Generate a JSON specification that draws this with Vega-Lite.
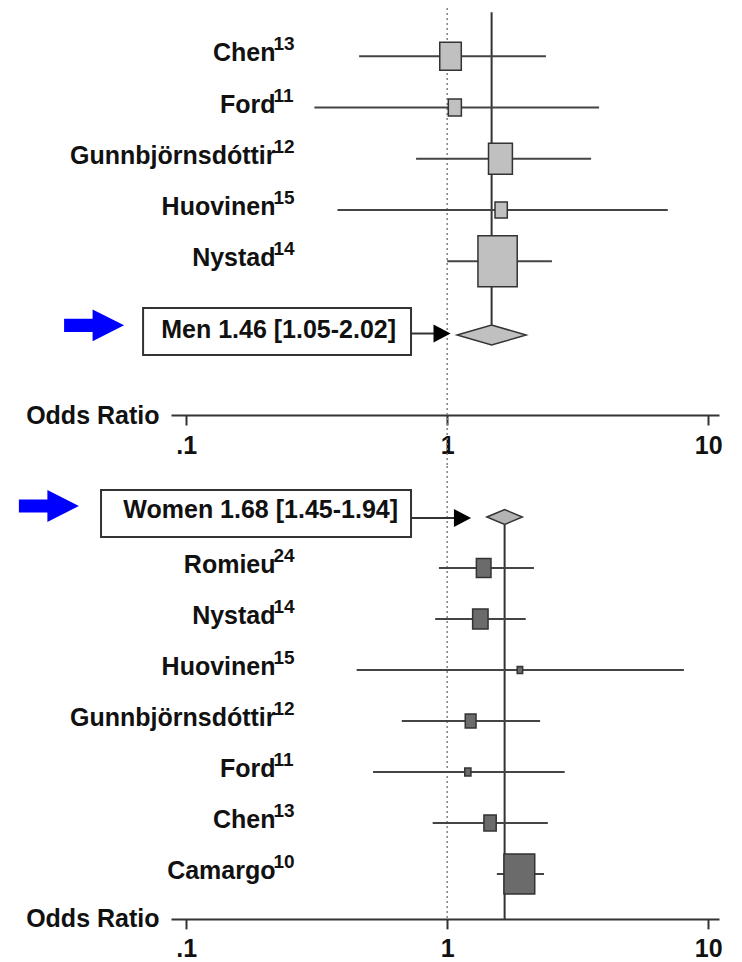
{
  "$schema": "https://vega.github.io/schema/vega-lite/v6.json",
  "padding": {"left": 18, "top": 5, "right": 5, "bottom": 2},
  "background": "white",
  "bounds": "flush",
  "spacing": 51,
  "resolve": {"scale": {"size": "independent", "x": "independent", "y": "independent"}},
  "datasets": {
    "men": [
      {"study": "Chen", "ref": "13", "or": 1.03, "lo": 0.46, "hi": 2.39, "w": 16.0, "row": 1},
      {"study": "Ford", "ref": "11", "or": 1.07, "lo": 0.31, "hi": 3.82, "w": 5.9, "row": 2},
      {"study": "Gunnbjörnsdóttir", "ref": "12", "or": 1.60, "lo": 0.76, "hi": 3.56, "w": 19.7, "row": 3},
      {"study": "Huovinen", "ref": "15", "or": 1.61, "lo": 0.38, "hi": 7.0, "w": 5.2, "row": 4},
      {"study": "Nystad", "ref": "14", "or": 1.56, "lo": 1.0, "hi": 2.52, "w": 53.2, "row": 5}
    ],
    "women": [
      {"study": "Romieu", "ref": "24", "or": 1.38, "lo": 0.93, "hi": 2.15, "w": 12.3, "row": 2},
      {"study": "Nystad", "ref": "14", "or": 1.34, "lo": 0.90, "hi": 2.0, "w": 13.7, "row": 3},
      {"study": "Huovinen", "ref": "15", "or": 1.90, "lo": 0.45, "hi": 8.07, "w": 1.7, "row": 4},
      {"study": "Gunnbjörnsdóttir", "ref": "12", "or": 1.23, "lo": 0.67, "hi": 2.27, "w": 6.7, "row": 5},
      {"study": "Ford", "ref": "11", "or": 1.20, "lo": 0.52, "hi": 2.82, "w": 2.2, "row": 6},
      {"study": "Chen", "ref": "13", "or": 1.46, "lo": 0.88, "hi": 2.43, "w": 8.7, "row": 7},
      {"study": "Camargo", "ref": "10", "or": 1.89, "lo": 1.55, "hi": 2.35, "w": 54.7, "row": 8}
    ],
    "pooled": [
      {"group": "Men", "label": "Men 1.46 [1.05-2.02]", "or": 1.48, "lo": 1.05, "hi": 2.02, "row": 6.44},
      {"group": "Women", "label": "Women 1.68 [1.45-1.94]", "or": 1.66, "lo": 1.45, "hi": 1.94, "row": 1}
    ]
  },
  "config": {
    "view": {"stroke": null},
    "axis": {
      "labelFont": "Liberation Sans", "labelFontSize": 25, "labelFontWeight": "bold", "labelColor": "#111",
      "domainColor": "#333", "domainWidth": 2, "tickColor": "#333", "tickWidth": 2, "tickSize": 10,
      "labelPadding": 8, "labelFlush": false, "labelOverlap": false, "grid": false,
      "titleFont": "Liberation Sans", "titleFontSize": 25, "titleFontWeight": "bold", "titleColor": "#111",
      "titleAngle": 0, "titleX": -12, "titleY": 8, "titleAlign": "right", "titleBaseline": "alphabetic"
    },
    "text": {"font": "Liberation Sans", "fontWeight": "bold", "color": "#111"}
  },
  "vconcat": [
    {
      "width": 548,
      "height": 410,
      "layer": [
        {
          "data": {"values": [{}]},
          "mark": {"type": "rule", "strokeDash": [2, 3], "color": "#808080", "strokeWidth": 1.5},
          "encoding": {
            "x": {"datum": 1, "type": "quantitative",
                  "scale": {"type": "log", "domain": [0.0875, 11], "nice": false},
                  "axis": {"values": [0.1, 1, 10], "title": "Odds Ratio", "orient": "bottom",
                           "labelExpr": "datum.value < 0.5 ? '.1' : datum.value < 5 ? '1' : '10'"}},
            "y": {"datum": 0.06, "type": "quantitative", "scale": {"domain": [0, 8], "reverse": true, "nice": false, "zero": false}, "axis": null},
            "y2": {"datum": 9}
          }
        },
        {
          "data": {"name": "pooled"},
          "transform": [{"filter": "datum.group == 'Men'"}],
          "mark": {"type": "rule", "color": "#333", "strokeWidth": 2},
          "encoding": {
            "x": {"field": "or", "type": "quantitative"},
            "y": {"datum": 0.14},
            "y2": {"datum": 6.24}
          }
        },
        {
          "data": {"name": "men"},
          "mark": {"type": "rule", "color": "#444", "strokeWidth": 2},
          "encoding": {
            "x": {"field": "lo", "type": "quantitative"},
            "x2": {"field": "hi"},
            "y": {"field": "row", "type": "quantitative"}
          }
        },
        {
          "data": {"name": "men"},
          "mark": {"type": "point", "shape": "M-0.77,-1L0.77,-1L0.77,1L-0.77,1Z", "filled": true, "fill": "#c0c0c0", "stroke": "#333", "strokeWidth": 1.5, "opacity": 1},
          "encoding": {
            "x": {"field": "or", "type": "quantitative"},
            "y": {"field": "row", "type": "quantitative"},
            "size": {"field": "w", "type": "quantitative", "scale": {"domain": [0, 53.2], "range": [0, 2601], "zero": true}, "legend": null}
          }
        },
        {
          "data": {"name": "pooled"},
          "transform": [{"filter": "datum.group == 'Men'"}],
          "mark": {"type": "point", "shape": "M-1,0L0,-0.29L1,0L0,0.29Z", "size": 4761, "filled": true, "fill": "#c0c0c0", "stroke": "#333", "strokeWidth": 1.5, "opacity": 1},
          "encoding": {
            "x": {"field": "or", "type": "quantitative"},
            "y": {"field": "row", "type": "quantitative"}
          }
        },
        {
          "data": {"name": "men"},
          "mark": {"type": "text", "align": "right", "baseline": "alphabetic", "dx": 0, "dy": 5, "fontSize": 25},
          "encoding": {
            "x": {"datum": 0.22},
            "y": {"field": "row", "type": "quantitative"},
            "text": {"field": "study"}
          }
        },
        {
          "data": {"name": "men"},
          "mark": {"type": "text", "align": "left", "baseline": "alphabetic", "dx": -2, "dy": -6, "fontSize": 19},
          "encoding": {
            "x": {"datum": 0.22},
            "y": {"field": "row", "type": "quantitative"},
            "text": {"field": "ref"}
          }
        },
        {
          "data": {"name": "pooled"},
          "transform": [{"filter": "datum.group == 'Men'"}],
          "mark": {"type": "rect", "fill": "white", "stroke": "#333", "strokeWidth": 2},
          "encoding": {
            "x": {"datum": 0.0684}, "x2": {"datum": 0.727},
            "y": {"datum": 5.91}, "y2": {"datum": 6.83}
          }
        },
        {
          "data": {"name": "pooled"},
          "transform": [{"filter": "datum.group == 'Men'"}],
          "mark": {"type": "text", "align": "right", "baseline": "alphabetic", "dx": -15, "fontSize": 25},
          "encoding": {
            "x": {"datum": 0.727},
            "y": {"datum": 6.5},
            "text": {"field": "label"}
          }
        },
        {
          "data": {"name": "pooled"},
          "transform": [{"filter": "datum.group == 'Men'"}],
          "mark": {"type": "rule", "color": "#333", "strokeWidth": 2},
          "encoding": {
            "x": {"datum": 0.727}, "x2": {"datum": 0.89},
            "y": {"datum": 6.41}
          }
        },
        {
          "data": {"name": "pooled"},
          "transform": [{"filter": "datum.group == 'Men'"}],
          "mark": {"type": "point", "shape": "M-0.95,-1L0.95,0L-0.95,1Z", "size": 324, "filled": true, "fill": "black", "opacity": 1},
          "encoding": {
            "x": {"datum": 0.956},
            "y": {"datum": 6.41}
          }
        },
        {
          "data": {"name": "pooled"},
          "transform": [{"filter": "datum.group == 'Men'"}],
          "mark": {"type": "point", "shape": "M-1,-0.22L-0.05,-0.22L-0.05,-0.53L1,0L-0.05,0.53L-0.05,0.22L-1,0.22Z", "size": 3600, "filled": true, "fill": "#0000ff", "opacity": 1},
          "encoding": {
            "x": {"datum": 0.0444},
            "y": {"datum": 6.25}
          }
        }
      ]
    },
    {
      "width": 548,
      "height": 452.88,
      "layer": [
        {
          "data": {"values": [{}]},
          "mark": {"type": "rule", "strokeDash": [2, 3], "color": "#808080", "strokeWidth": 1.5},
          "encoding": {
            "x": {"datum": 1, "type": "quantitative",
                  "scale": {"type": "log", "domain": [0.0875, 11], "nice": false},
                  "axis": {"values": [0.1, 1, 10], "title": "Odds Ratio", "orient": "bottom",
                           "labelExpr": "datum.value < 0.5 ? '.1' : datum.value < 5 ? '1' : '10'"}},
            "y": {"datum": 0, "type": "quantitative", "scale": {"domain": [0, 8.88], "reverse": true, "nice": false, "zero": false}, "axis": null},
            "y2": {"datum": 8.88}
          }
        },
        {
          "data": {"name": "pooled"},
          "transform": [{"filter": "datum.group == 'Women'"}],
          "mark": {"type": "rule", "color": "#333", "strokeWidth": 2},
          "encoding": {
            "x": {"field": "or", "type": "quantitative"},
            "y": {"datum": 1.15},
            "y2": {"datum": 8.88}
          }
        },
        {
          "data": {"name": "women"},
          "mark": {"type": "rule", "color": "#444", "strokeWidth": 2},
          "encoding": {
            "x": {"field": "lo", "type": "quantitative"},
            "x2": {"field": "hi"},
            "y": {"field": "row", "type": "quantitative"}
          }
        },
        {
          "data": {"name": "women"},
          "mark": {"type": "point", "shape": "M-0.77,-1L0.77,-1L0.77,1L-0.77,1Z", "filled": true, "fill": "#6b6b6b", "stroke": "#333", "strokeWidth": 1.5, "opacity": 1},
          "encoding": {
            "x": {"field": "or", "type": "quantitative"},
            "y": {"field": "row", "type": "quantitative"},
            "size": {"field": "w", "type": "quantitative", "scale": {"domain": [0, 54.7], "range": [0, 1600], "zero": true}, "legend": null}
          }
        },
        {
          "data": {"name": "pooled"},
          "transform": [{"filter": "datum.group == 'Women'"}],
          "mark": {"type": "point", "shape": "M-1,0L0,-0.42L1,0L0,0.42Z", "size": 1260, "filled": true, "fill": "#b3b3b3", "stroke": "#333", "strokeWidth": 1.5, "opacity": 1},
          "encoding": {
            "x": {"field": "or", "type": "quantitative"},
            "y": {"field": "row", "type": "quantitative"}
          }
        },
        {
          "data": {"name": "women"},
          "mark": {"type": "text", "align": "right", "baseline": "alphabetic", "dx": 0, "dy": 5, "fontSize": 25},
          "encoding": {
            "x": {"datum": 0.22},
            "y": {"field": "row", "type": "quantitative"},
            "text": {"field": "study"}
          }
        },
        {
          "data": {"name": "women"},
          "mark": {"type": "text", "align": "left", "baseline": "alphabetic", "dx": -2, "dy": -6, "fontSize": 19},
          "encoding": {
            "x": {"datum": 0.22},
            "y": {"field": "row", "type": "quantitative"},
            "text": {"field": "ref"}
          }
        },
        {
          "data": {"name": "pooled"},
          "transform": [{"filter": "datum.group == 'Women'"}],
          "mark": {"type": "rect", "fill": "white", "stroke": "#333", "strokeWidth": 2},
          "encoding": {
            "x": {"datum": 0.0472}, "x2": {"datum": 0.727},
            "y": {"datum": 0.471}, "y2": {"datum": 1.392}
          }
        },
        {
          "data": {"name": "pooled"},
          "transform": [{"filter": "datum.group == 'Women'"}],
          "mark": {"type": "text", "align": "right", "baseline": "alphabetic", "dx": -13, "fontSize": 25},
          "encoding": {
            "x": {"datum": 0.727},
            "y": {"datum": 1.02},
            "text": {"field": "label"}
          }
        },
        {
          "data": {"name": "pooled"},
          "transform": [{"filter": "datum.group == 'Women'"}],
          "mark": {"type": "rule", "color": "#333", "strokeWidth": 2},
          "encoding": {
            "x": {"datum": 0.727}, "x2": {"datum": 1.063},
            "y": {"datum": 1.02}
          }
        },
        {
          "data": {"name": "pooled"},
          "transform": [{"filter": "datum.group == 'Women'"}],
          "mark": {"type": "point", "shape": "M-0.95,-1L0.95,0L-0.95,1Z", "size": 324, "filled": true, "fill": "black", "opacity": 1},
          "encoding": {
            "x": {"datum": 1.145},
            "y": {"datum": 1.02}
          }
        },
        {
          "data": {"name": "pooled"},
          "transform": [{"filter": "datum.group == 'Women'"}],
          "mark": {"type": "point", "shape": "M-1,-0.22L-0.05,-0.22L-0.05,-0.53L1,0L-0.05,0.53L-0.05,0.22L-1,0.22Z", "size": 3600, "filled": true, "fill": "#0000ff", "opacity": 1},
          "encoding": {
            "x": {"datum": 0.0298},
            "y": {"datum": 0.784}
          }
        }
      ]
    }
  ]
}
